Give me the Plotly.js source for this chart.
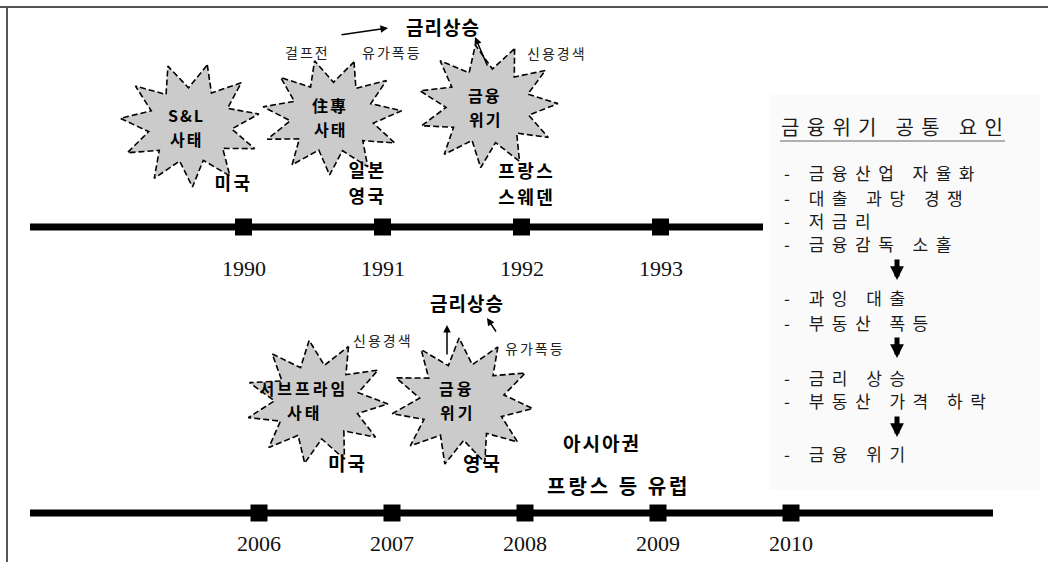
<!DOCTYPE html>
<html>
<head>
<meta charset="utf-8">
<script src="https://cdn.plot.ly/plotly-3.0.1.min.js"></script>
<style>html,body{margin:0;padding:0;background:#fff}</style>
</head>
<body>
<div id="chart" style="width:1048px;height:562px"></div>
<script>
// ---------- data ----------
const topYears = [1990, 1991, 1992, 1993];
const bottomYears = [2006, 2007, 2008, 2009, 2010];

const topEvents = ['S&L<br>사태', '住專<br>사태', '금융<br>위기'];
const topCountries = ['미국', '일본<br>영국', '프랑스<br>스웨덴'];
const topCauses = ['걸프전', '유가폭등', '신용경색'];
const topResult = '금리상승';

const bottomEvents = ['서브프라임<br>사태', '금융<br>위기'];
const bottomCountries = ['미국', '영국', '아시아권', '프랑스 등 유럽'];
const bottomCauses = ['신용경색', '유가폭등'];
const bottomResult = '금리상승';

const factorTitle = '금융위기 공통 요인';
const factorGroups = [
  ['- 금융산업 자율화', '- 대출 과당 경쟁', '- 저금리', '- 금융감독 소홀'],
  ['- 과잉 대출', '- 부동산 폭등'],
  ['- 금리 상승', '- 부동산 가격 하락'],
  ['- 금융 위기']
];

// ---------- layout constants (pixel frame) ----------
const W = 1048, H = 562;
const TOP_Y = 227, BOT_Y = 513;
const TOP_LINE = [30, 763], BOT_LINE = [30, 993];
const topScale = {px0: 243.5, yr0: 1990, ppy: 139};
const botScale = {px0: 259, yr0: 2006, ppy: 133};
function rangeOf(s) { return [s.yr0 - s.px0 / s.ppy, s.yr0 + (W - s.px0) / s.ppy]; }

const KR = '"Noto Sans CJK KR", "Noto Sans", sans-serif';
const SERIF = '"Liberation Serif", "DejaVu Serif", serif';

function star(cx, cy, rx, ry, n, inner, rot) {
  const xs = [], ys = [];
  for (let i = 0; i <= 2 * n; i++) {
    const a = rot + Math.PI * i / n;
    const r = (i % 2 === 0) ? 1 : inner;
    xs.push(cx + rx * r * Math.sin(a));
    ys.push(cy - ry * r * Math.cos(a));
  }
  return {xs, ys};
}

const topStarPos = [[190, 125, 70, 62], [332, 117, 70, 58], [488, 106, 70, 62]];
const topEventText = [[186, 127], [330, 117], [485, 107]];
const topCountryPos = [[233, 182], [367, 182], [527, 183]];
const botStarPos = [[317, 402, 71, 62], [462, 402, 71, 64]];
const botEventText = [[304, 400], [457, 400]];
const botCountryPos = [[347, 462], [482, 462], [602, 442], [618, 485]];

const traces = [];
// timelines
traces.push({x: TOP_LINE, y: [TOP_Y, TOP_Y], xaxis: 'x', yaxis: 'y', mode: 'lines',
  line: {color: '#000', width: 7}, hoverinfo: 'skip'});
traces.push({x: BOT_LINE, y: [BOT_Y, BOT_Y], xaxis: 'x', yaxis: 'y', mode: 'lines',
  line: {color: '#000', width: 7}, hoverinfo: 'skip'});
traces.push({x: topYears, y: topYears.map(() => TOP_Y), xaxis: 'x2', yaxis: 'y', mode: 'markers',
  marker: {symbol: 'square', size: 17, color: '#000'}, hoverinfo: 'skip'});
traces.push({x: bottomYears, y: bottomYears.map(() => BOT_Y), xaxis: 'x3', yaxis: 'y', mode: 'markers',
  marker: {symbol: 'square', size: 17, color: '#000'}, hoverinfo: 'skip'});

// starbursts
topStarPos.concat(botStarPos).forEach((p, i) => {
  const s = star(p[0], p[1], p[2], p[3], 11, 0.6, 0.25 + i * 0.07);
  traces.push({x: s.xs, y: s.ys, xaxis: 'x', yaxis: 'y', mode: 'lines', fill: 'toself',
    fillcolor: '#cbcbcb', line: {color: '#000', width: 1.6, dash: '6px,3px'}, hoverinfo: 'skip'});
});

const ann = [];
const spaced = []; // [annotation index, letter spacing px]
function txt(x, y, text, font, opts, ls) {
  ann.push(Object.assign({x, y, xref: 'x', yref: 'y', text, showarrow: false,
    font, xanchor: 'center', yanchor: 'middle'}, opts || {}));
  if (ls) spaced.push([ann.length - 1, ls]);
}
// multi-line label centred on (x, y): one annotation per line
function lines(x, y, text, font, gap, ls) {
  const parts = text.split('<br>');
  parts.forEach((t, k) => txt(x, y + (k - (parts.length - 1) / 2) * gap, t, font, null, ls));
}
function arrow(x0, y0, x1, y1, w, size) {
  ann.push({x: x1, y: y1, ax: x0, ay: y0, xref: 'x', yref: 'y', axref: 'x', ayref: 'y', text: '',
    showarrow: true, arrowhead: 2, arrowsize: size || 1, arrowwidth: w || 1.5, arrowcolor: '#000'});
}

const yearFont = {family: SERIF, size: 22, color: '#111'};
topYears.forEach(y => ann.push({x: y, y: 268, xref: 'x2', yref: 'y', text: String(y), showarrow: false, font: yearFont}));
bottomYears.forEach(y => ann.push({x: y, y: 543, xref: 'x3', yref: 'y', text: String(y), showarrow: false, font: yearFont}));

const eventFont = {family: KR, size: 16, color: '#000', weight: 700};
const countryFont = {family: KR, size: 18, color: '#000', weight: 700};
const resultFont = {family: KR, size: 19, color: '#000', weight: 700};
const smallFont = {family: KR, size: 14, color: '#222'};

// top
topEvents.forEach((t, i) => lines(topEventText[i][0], topEventText[i][1], t, eventFont, 24, 2));
topCountries.forEach((t, i) => lines(topCountryPos[i][0], topCountryPos[i][1], t, countryFont, 26.5, 2.5));
txt(307, 52, topCauses[0], smallFont, null, 2);
txt(392, 52, topCauses[1], smallFont, null, 2);
txt(557, 53, topCauses[2], smallFont, null, 2);
txt(443, 26, topResult, resultFont, null, 1);
arrow(340, 35, 388, 28);
arrow(488, 67, 475, 37);

// bottom
bottomEvents.forEach((t, i) => lines(botEventText[i][0], botEventText[i][1], t, eventFont, 24, 3));
bottomCountries.forEach((t, i) => txt(botCountryPos[i][0], botCountryPos[i][1], t,
  i === 3 ? {family: KR, size: 20, color: '#000', weight: 700} : {family: KR, size: 19, color: '#000', weight: 700},
  null, i === 3 ? 3 : 2));
txt(383, 340, bottomCauses[0], smallFont, null, 2);
txt(535, 348, bottomCauses[1], smallFont, null, 2);
txt(467, 302, bottomResult, resultFont, null, 1);
arrow(447, 356, 447, 325);
arrow(497, 333, 487, 318);

// factor panel
txt(779, 126, factorTitle, {family: KR, size: 20, color: '#1a1a1a'}, {xanchor: 'left', align: 'left'}, 7.3);
const groupY = [[172, 197, 220, 243], [297, 322], [377, 400], [453]];
const downY = [270, 348, 427];
const itemFont = {family: KR, size: 17, color: '#1a1a1a'};
factorGroups.forEach((g, gi) => {
  g.forEach((t, i) => txt(782, groupY[gi][i], t, itemFont, {xanchor: 'left', align: 'left'}, 7.5));
  if (gi < downY.length) arrow(897, downY[gi] - 12, 897, downY[gi] + 10, 5, 0.55);
});

const shapes = [
  {type: 'rect', xref: 'x', yref: 'y', x0: 770, x1: 1040, y0: 95, y1: 490, fillcolor: '#fafafa', line: {width: 0}, layer: 'below'},
  {type: 'line', xref: 'x', yref: 'y', x0: 0, x1: W, y0: 7, y1: 7, line: {color: '#555', width: 2}},
  {type: 'line', xref: 'x', yref: 'y', x0: 7, x1: 7, y0: 7, y1: H, line: {color: '#555', width: 2}},
  {type: 'line', xref: 'x', yref: 'y', x0: 780, x1: 1005, y0: 141, y1: 141, line: {color: '#666', width: 1.2}}
];

const hidden = {visible: false, fixedrange: true, showgrid: false, zeroline: false};
const layout = {
  width: W, height: H, margin: {l: 0, r: 0, t: 0, b: 0},
  paper_bgcolor: '#fff', plot_bgcolor: '#fff', showlegend: false,
  xaxis: Object.assign({range: [0, W]}, hidden),
  xaxis2: Object.assign({range: rangeOf(topScale), overlaying: 'x'}, hidden),
  xaxis3: Object.assign({range: rangeOf(botScale), overlaying: 'x'}, hidden),
  yaxis: Object.assign({range: [H, 0]}, hidden),
  annotations: ann, shapes: shapes
};
Plotly.newPlot('chart', traces, layout, {displayModeBar: false, staticPlot: true}).then(gd => {
  spaced.forEach(([idx, ls]) => {
    const g = gd.querySelector('.annotation[data-index="' + idx + '"] .annotation-text');
    if (g) g.style.letterSpacing = ls + 'px';
  });
});
</script>
</body>
</html>
